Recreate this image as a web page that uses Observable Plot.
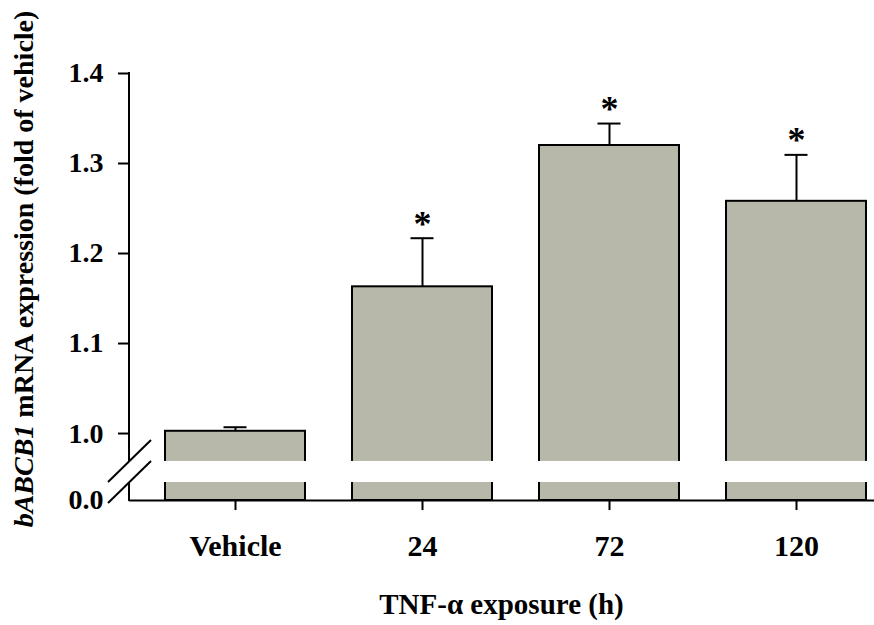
<!DOCTYPE html>
<html>
<head>
<meta charset="utf-8">
<script src="https://cdn.jsdelivr.net/npm/d3@7"></script>
<script src="https://cdn.jsdelivr.net/npm/@observablehq/plot@0.6"></script>
<style>
  html, body { margin: 0; padding: 0; background: #fff; }
</style>
</head>
<body>
<div id="chart"></div>
<script>
// ---- data ----
const categories = ["Vehicle", "24", "72", "120"];
const means = [1.0025, 1.163, 1.320, 1.258];
const sems = [0.0045, 0.054, 0.0244, 0.0516];
const significant = [false, true, true, true];
const yTicks = [1.0, 1.1, 1.2, 1.3, 1.4];
// broken axis: the bottom of the plot stands for 0.0
const axisBottom = 0.9256;
const breakLow = 0.9456;
const breakHigh = 0.969;
const xTitle = "TNF-α exposure (h)";
const yTitleItalic = "bABCB1";
const yTitleRest = " mRNA expression (fold of vehicle)";

const data = categories.map((c, i) => ({
  cat: c, mean: means[i], sem: sems[i], top: means[i] + sems[i], sig: significant[i]
}));

const font = "'Liberation Serif', 'Times New Roman', serif";
const W = 874, H = 625;
const mL = 129, mR = 0, mT = 73, mB = 125;

const plot = Plot.plot({
  width: W,
  height: H,
  marginLeft: mL,
  marginRight: mR,
  marginTop: mT,
  marginBottom: mB,
  style: {fontFamily: font, fontWeight: "bold", fontSize: "28px", background: "#fff", color: "#000"},
  x: {type: "band", domain: categories, paddingInner: 0.25, paddingOuter: 0.107, align: 0.82, label: null},
  y: {domain: [axisBottom, 1.4], label: null},
  marks: [
    Plot.barY(data, {x: "cat", y1: axisBottom, y2: "mean", fill: "#b7b7aa", stroke: "#000", strokeWidth: 2}),
    Plot.ruleX(data, {x: "cat", y1: "mean", y2: "top", stroke: "#000", strokeWidth: 2}),
    Plot.tickY(data, {x: "cat", y: "top", stroke: "#000", strokeWidth: 2, insetLeft: 58.5, insetRight: 58.5}),
    Plot.text(data.filter(d => d.sig), {x: "cat", y: "top", text: () => "*", dy: -14, fontSize: 36, fontWeight: "bold", fill: "#000"}),
    Plot.rect([0], {y1: breakLow, y2: breakHigh, fill: "#fff", insetLeft: -4}),
    Plot.ruleY([axisBottom], {stroke: "#000", strokeWidth: 2}),
    Plot.axisX({tickSize: 10, tickPadding: 24, strokeWidth: 2, fontSize: 30, fontWeight: "bold", label: null}),
    Plot.axisY(yTicks, {tickSize: 11, tickPadding: 15, strokeWidth: 2, fontSize: 28, fontWeight: "bold", tickFormat: d => d.toFixed(1), label: null}),
    Plot.axisY([axisBottom], {tickSize: 0, tickPadding: 26, fontSize: 28, fontWeight: "bold", tickFormat: () => "0.0", label: null})
  ]
});

document.getElementById("chart").appendChild(plot);

// ---- broken y axis line, break marks and titles ----
const y = plot.scale("y");
const svg = d3.select(plot);
const yTop = y.apply(1.4), yBot = y.apply(axisBottom);
const yBh = y.apply(breakHigh), yBl = y.apply(breakLow);
const g = svg.append("g").attr("stroke", "#000").attr("stroke-width", 2).attr("fill", "none");
g.append("line").attr("x1", mL).attr("x2", mL).attr("y1", yTop - 1).attr("y2", yBh);
g.append("line").attr("x1", mL).attr("x2", mL).attr("y1", yBl).attr("y2", yBot + 1);
for (const yy of [yBh, yBl]) {
  g.append("line").attr("x1", mL - 21).attr("y1", yy + 21).attr("x2", mL + 22).attr("y2", yy - 21);
}

svg.append("text")
  .attr("x", (mL + W - mR) / 2)
  .attr("y", 614)
  .attr("text-anchor", "middle")
  .attr("font-family", font)
  .attr("font-weight", "bold")
  .attr("font-size", 29)
  .attr("fill", "#000")
  .text(xTitle);

const yt = svg.append("text")
  .attr("transform", `translate(33, 269) rotate(-90)`)
  .attr("text-anchor", "middle")
  .attr("font-family", font)
  .attr("font-weight", "bold")
  .attr("font-size", 28)
  .attr("fill", "#000");
yt.append("tspan").attr("font-style", "italic").text(yTitleItalic);
yt.append("tspan").text(yTitleRest);
</script>
</body>
</html>
